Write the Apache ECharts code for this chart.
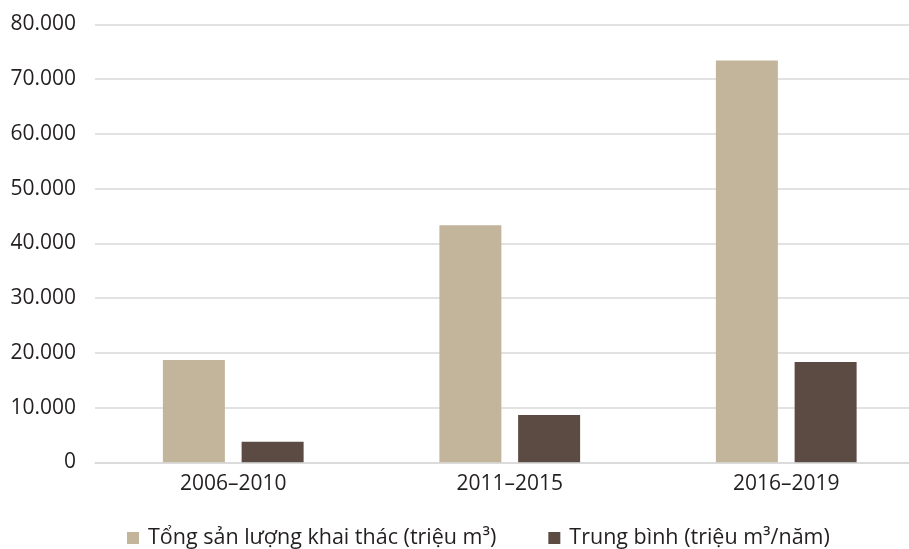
<!DOCTYPE html>
<html>
<head>
<meta charset="utf-8">
<script src="https://cdn.jsdelivr.net/npm/echarts@6/dist/echarts.min.js"></script>
<style>
html,body{margin:0;padding:0;background:#fff;}
#chart{width:909px;height:549px;}
</style>
</head>
<body>
<div id="chart"></div>
<script>
const categories = ['2006–2010', '2011–2015', '2016–2019'];
const totalOutput = [18700, 43300, 73400];
const averagePerYear = [3740, 8660, 18350];
const seriesNames = ['Tổng sản lượng khai thác (triệu m³)', 'Trung bình (triệu m³/năm)'];

const FONT = '"Open Sans", sans-serif';
const TEXT = '#231f20';
const chart = echarts.init(document.getElementById('chart'), null, {renderer: 'canvas'});
chart.setOption({
  animation: false,
  backgroundColor: '#ffffff',
  textStyle: {fontFamily: FONT},
  legend: {
    left: 122,
    top: 522,
    icon: 'rect',
    itemWidth: 12,
    itemHeight: 12,
    itemGap: 52,
    textStyle: {fontFamily: FONT, fontSize: 21.5, color: TEXT, padding: [0, 0, 0, 4]},
    data: seriesNames
  },
  grid: {left: 95, width: 829.5, top: 24.5, bottom: 86.7, containLabel: false, outerBoundsMode: 'none'},
  xAxis: {
    type: 'category',
    data: categories,
    axisLine: {show: true, lineStyle: {color: '#d9d9d9', width: 1.5}},
    axisTick: {show: false},
    axisLabel: {fontFamily: FONT, fontSize: 21, color: TEXT, margin: 11}
  },
  yAxis: {
    type: 'value',
    min: 0, max: 80000, interval: 10000,
    axisLine: {show: false},
    axisTick: {show: false},
    splitLine: {lineStyle: {color: '#d9d9d9', width: 1.5}},
    axisLabel: {
      fontFamily: FONT, fontSize: 21, color: TEXT, margin: 19,
      formatter: v => v === 0 ? '0' : String(v).replace(/\B(?=(\d{3})+(?!\d))/g, '.')
    }
  },
  series: [
    {name: seriesNames[0], type: 'bar', data: totalOutput, barWidth: 62, barGap: '27%', itemStyle: {color: '#c3b59b'}},
    {name: seriesNames[1], type: 'bar', data: averagePerYear, barWidth: 62, itemStyle: {color: '#5c4b43'}}
  ]
});
</script>
</body>
</html>
